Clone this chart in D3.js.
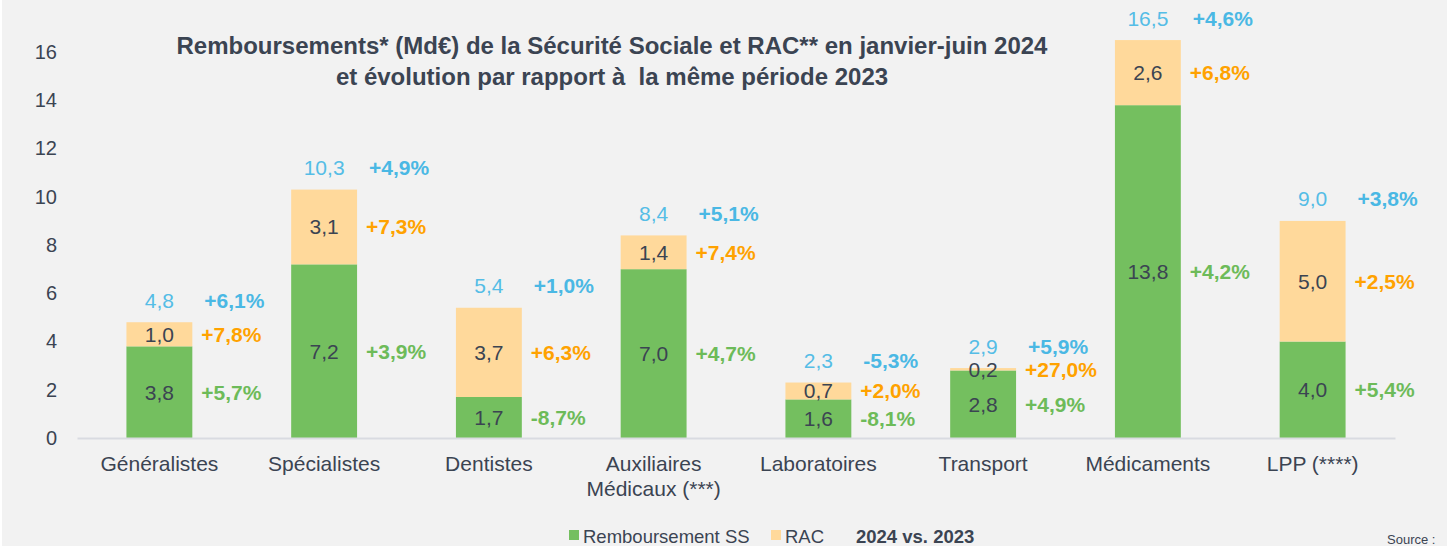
<!DOCTYPE html>
<html lang="fr">
<head>
<meta charset="UTF-8">
<title>Remboursements SS et RAC</title>
<script src="https://d3js.org/d3.v7.min.js"></script>
<style>
    body { margin: 0; background: #f2f2f2; font-family: "Liberation Sans", Arial, sans-serif; }
    svg { display: block; }
    .tick text { fill: #3b4452; }
</style>
</head>
<body>
<svg id="chart" width="1447" height="546"></svg>
<script>
    // data
    const categories = ["Généralistes", "Spécialistes", "Dentistes", "Auxiliaires\nMédicaux (***)",
        "Laboratoires", "Transport", "Médicaments", "LPP (****)"]
    const ss = [3.8, 7.2, 1.7, 7.0, 1.6, 2.8, 13.8, 4.0]
    const rac = [1.0, 3.1, 3.7, 1.4, 0.7, 0.2, 2.6, 5.0]
    const total = [4.8, 10.3, 5.4, 8.4, 2.3, 2.9, 16.5, 9.0]
    const evolTotal = ["+6,1%", "+4,9%", "+1,0%", "+5,1%", "-5,3%", "+5,9%", "+4,6%", "+3,8%"]
    const evolRac = ["+7,8%", "+7,3%", "+6,3%", "+7,4%", "+2,0%", "+27,0%", "+6,8%", "+2,5%"]
    const evolSs = ["+5,7%", "+3,9%", "-8,7%", "+4,7%", "-8,1%", "+4,9%", "+4,2%", "+5,4%"]
    const yTicks = [0, 2, 4, 6, 8, 10, 12, 14, 16]

    const green = "#74bf5f", beige = "#ffd99b"
    const blue = "#55bde6", orange = "#ffa200", greenTxt = "#6dbb59", dark = "#3b4452"
    const fmt = v => d3.format(".1f")(v).replace(".", ",")
    const font = "Liberation Sans, Arial, sans-serif"

    const svg = d3.select("#chart")
    const margin = { left: 77, right: 1395, top: 28, bottom: 438 }

    const x = d3.scaleBand().domain(categories).range([margin.left, margin.right]).paddingInner(0.6).paddingOuter(0.3)
    const y = d3.scaleLinear().domain([0, 17]).range([margin.bottom, margin.top])

    // white strip at the left edge
    svg.append("rect").attr("x", 0).attr("y", 0).attr("width", 2).attr("height", 546).attr("fill", "#fff")

    // y axis (labels only)
    const yAxis = svg.append("g").attr("transform", `translate(${margin.left},0)`)
        .call(d3.axisLeft(y).tickValues(yTicks).tickSize(0).tickPadding(20))
    yAxis.select(".domain").remove()
    yAxis.selectAll("text").attr("font-size", 20).attr("font-family", font)

    // bars
    const g = svg.append("g")
    g.selectAll(".ss").data(categories).join("rect")
        .attr("x", d => x(d)).attr("width", x.bandwidth())
        .attr("y", (d, i) => y(ss[i])).attr("height", (d, i) => y(0) - y(ss[i]))
        .attr("fill", green)
    g.selectAll(".rac").data(categories).join("rect")
        .attr("x", d => x(d)).attr("width", x.bandwidth())
        .attr("y", (d, i) => y(total[i])).attr("height", (d, i) => y(ss[i]) - y(total[i]))
        .attr("fill", beige)

    // x axis
    const xAxis = svg.append("g").attr("transform", `translate(0,${margin.bottom})`)
        .call(d3.axisBottom(x).tickSize(0).tickPadding(0))
    xAxis.select(".domain").attr("stroke", "#d9dbe1").attr("stroke-width", 2)
    xAxis.selectAll(".tick text").each(function (d) {
        const t = d3.select(this).text(null).attr("font-size", 21).attr("font-family", font)
        d.split("\n").forEach((line, k) => {
            t.append("tspan").attr("x", 0).attr("y", 18 + k * 25).attr("dy", "0.71em").text(line)
        })
    })

    // value labels
    const lab = svg.append("g").attr("font-size", 21).attr("dominant-baseline", "central")
    const cx = d => x(d) + x.bandwidth() / 2
    const px = d => x(d) + x.bandwidth() + 9

    categories.forEach((d, i) => {
        const ySs = (y(0) + y(ss[i])) / 2
        const yRac = (y(ss[i]) + y(total[i])) / 2
        const yTot = y(total[i]) - 22
        lab.append("text").attr("x", cx(d)).attr("y", ySs).attr("text-anchor", "middle").attr("fill", dark).text(fmt(ss[i]))
        lab.append("text").attr("x", cx(d)).attr("y", yRac).attr("text-anchor", "middle").attr("fill", dark).text(fmt(rac[i]))
        lab.append("text").attr("x", cx(d)).attr("y", yTot).attr("text-anchor", "middle").attr("fill", blue).text(fmt(total[i]))
        lab.append("text").attr("x", px(d)).attr("y", ySs).attr("font-weight", "bold").attr("fill", greenTxt).text(evolSs[i])
        lab.append("text").attr("x", px(d)).attr("y", yRac).attr("font-weight", "bold").attr("fill", orange).text(evolRac[i])
        lab.append("text").attr("x", px(d) + 3).attr("y", yTot).attr("font-weight", "bold").attr("fill", "#4ab8e4").text(evolTotal[i])
    })

    // title
    const title = svg.append("text").attr("x", 612).attr("y", 54).attr("text-anchor", "middle")
        .attr("font-size", 24).attr("font-weight", "bold").attr("fill", dark)
    title.append("tspan").attr("x", 612).text("Remboursements* (Md€) de la Sécurité Sociale et RAC** en janvier-juin 2024")
    title.append("tspan").attr("x", 612).attr("dy", 31).text("et évolution par rapport à\u00a0 la même période 2023")

    // legend
    const leg = svg.append("g").attr("font-size", 18.5).attr("fill", dark)
    leg.append("rect").attr("x", 569).attr("y", 530).attr("width", 10).attr("height", 10).attr("fill", green)
    leg.append("text").attr("x", 583).attr("y", 543).text("Remboursement SS")
    leg.append("rect").attr("x", 771).attr("y", 530).attr("width", 10).attr("height", 10).attr("fill", beige)
    leg.append("text").attr("x", 785).attr("y", 543).text("RAC")
    leg.append("text").attr("x", 856).attr("y", 543).attr("font-weight", "bold").text("2024 vs. 2023")

    svg.append("text").attr("x", 1387).attr("y", 544).attr("font-size", 13).attr("fill", dark).text("Source :")
</script>
</body>
</html>
